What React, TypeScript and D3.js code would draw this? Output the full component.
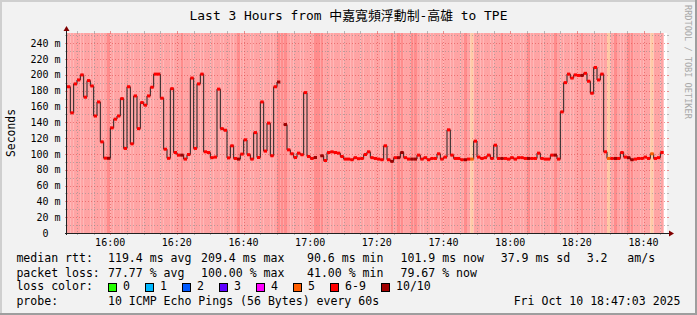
import React from "react";
import * as d3 from "d3";

// ---------------- data ----------------
const startTime = new Date(2025, 9, 10, 15, 47, 3);
const endTime = new Date(2025, 9, 10, 18, 47, 3);

// median rtt per minute (ms), null = no answer
const medianRtt: (number | null)[] = [
  185, 152, 188.6, 193.6, 200, 171.8, 192.8, 186, 148, 165.8,
  115.3, 94.7, 94.5, 133, 144, 148, 170, 107, 185, 112.8,
  173.4, 132, 165, 161.7, 173.4, 184.4, 201, 201, 170.5, 106,
  94.5, 182.6, 101.8, 98.5, 98.5, 93.5, 99.3, 196, 107, 188.6,
  201, 102.7, 101.8, 95.3, 96, 182, 132, 130, 95, 110.3,
  94.3, 93.5, 99.8, 117.9, 99, 93.5, 127, 95.5, 165.8, 103.6,
  139, 97.7, 185, 191, null, 137.2, 105.2, 100.2, 95.5, 101,
  99, 177.6, 96.8, 94.3, 95.5, null, 97.7, 91.7, 101.8, 102.7,
  101.8, 101, 96.8, 93.5, 93.5, 92.7, 95.3, 94, 94.3, 99.3,
  102.7, 95.3, 94.3, 93.5, 92.7, 110.3, 92.7, 90.6, 95.3, 95.3,
  101.8, 95.3, 93.5, 93.5, 93.5, 98.5, 93.5, 95.3, 92.7, 94.3,
  94.3, 100.2, 93.5, 96, 130.5, 98.5, 94.3, 94.3, 92.7, 92.7,
  93.5, 93.5, 116.2, 96, 94.3, 95.3, 98.5, 94.3, 111.1, 94.3,
  94.3, 94.3, 93.5, 95.3, 93.5, 95.3, 95.3, 94.3, 94.3, 94.3,
  94.3, 101, 94.3, 93.5, 93.5, 98.5, 98.5, 93.5, 153.2, 190.2,
  201, 196, 200, 199.3, 199.3, 202, 192, 176.8, 209.4, 193.6,
  201, 102.7, 94.3, 94.3, 94.3, 94.3, 101.8, 96, 95.3, 92.7,
  93.5, 94.3, 94.3, 96, 94.3, 100.2, 94.3, 95.3, 101.9,
];

// lost pings out of 10 per minute
const lossPerMinute: number[] = [
  8, 8, 8, 8, 8, 8, 8, 8, 8, 8,
  8, 8, 10, 8, 8, 8, 8, 8, 8, 8,
  8, 8, 8, 8, 8, 8, 8, 8, 8, 8,
  8, 8, 8, 8, 10, 8, 8, 8, 8, 8,
  8, 8, 8, 8, 8, 8, 8, 8, 8, 8,
  8, 10, 8, 8, 8, 8, 8, 8, 8, 8,
  8, 8, 8, 10, 10, 10, 8, 8, 8, 8,
  8, 8, 8, 8, 10, 10, 10, 8, 8, 8,
  8, 8, 8, 8, 8, 8, 8, 8, 8, 8,
  8, 8, 8, 8, 8, 8, 8, 10, 8, 10,
  10, 8, 8, 10, 10, 8, 8, 8, 8, 8,
  8, 8, 8, 8, 8, 8, 8, 8, 8, 10,
  8, 5, 8, 8, 8, 8, 8, 8, 8, 8,
  10, 8, 8, 8, 8, 8, 8, 8, 10, 8,
  8, 8, 8, 8, 8, 8, 10, 8, 8, 8,
  8, 8, 8, 8, 10, 8, 8, 8, 8, 8,
  8, 8, 5, 8, 10, 8, 8, 8, 10, 10,
  8, 8, 8, 8, 8, 5, 8, 8, 8,
];

const yTickValues = [0, 20, 40, 60, 80, 100, 120, 140, 160, 180, 200, 220, 240];
const lossLegendLabels = ["0", "1", "2", "3", "4", "5", "6-9", "10/10"];
const lossLegendColors = ["#26ff00", "#00b8ff", "#0059ff", "#5e00ff", "#ff00ff", "#ff5e00", "#ff0000", "#a00000"];
const rttStats = ["119.4 ms avg", "209.4 ms max", "90.6 ms min", "101.9 ms now", "37.9 ms sd", "3.2", "am/s"];
const lossStats = ["77.77 % avg", "100.00 % max", "41.00 % min", "79.67 % now"];
const titleText = "Last 3 Hours from 中嘉寬頻浮動制-高雄 to TPE";
const probeText = "10 ICMP Echo Pings (56 Bytes) every 60s";
const dateText = "Fri Oct 10 18:47:03 2025";

// ---------------- layout ----------------
const W = 697, H = 315;
const X0 = 67, X1 = 667, Y0 = 233, Y1 = 33;
const FONT = '"DejaVu Sans Mono", "Noto Sans CJK TC", monospace';

const bucketIndex = (l: number) => (l >= 10 ? 7 : l >= 6 ? 6 : l);
const bandColor = (l: number) => (l >= 10 ? "#ff8c8c" : l >= 6 ? "#ffa4a4" : "#ffcaa6");

export default function App() {
  const x = d3.scaleTime().domain([startTime, endTime]).range([X0, X1]);
  const y = d3.scaleLinear().domain([0, 253]).range([Y0, Y1]);
  const tAt = (i: number) => d3.timeMinute.offset(startTime, i);

  const minorX = d3.timeMinute.every(5)!.range(startTime, endTime);
  const majorX = d3.timeMinute.every(20)!.range(startTime, endTime);
  const isMajorX = (t: Date) => t.getMinutes() % 20 === 0;
  const minorY = d3.range(10, 253, 10);
  const fmt = d3.timeFormat("%H:%M");

  const pts = medianRtt.map((v, i) => ({ t: tAt(i), v }));
  const linePath = d3
    .line<{ t: Date; v: number | null }>()
    .defined((d) => d.v !== null)
    .x((d) => x(d.t))
    .y((d) => y(d.v as number))
    .curve(d3.curveStepAfter)(pts) || "";

  const gridCol = "rgba(143,143,143,0.6)";
  const mgridCol = "rgba(222,79,79,0.6)";

  const rttX = [108, 201, 307, 400.5, 500.7, 586.7, 627.3];
  const lossX = [108, 201, 307, 400.5];
  const swX = [108, 145, 182, 219, 256, 293, 330, 381];

  return (
    <svg width={W} height={H} style={{ position: "absolute", left: 0, top: 0 }} fontFamily={FONT}>
      <rect x={0} y={0} width={W} height={H} fill="#f2f2f2" />
      <rect x={0} y={0} width={W} height={2} fill="#cfcfcf" />
      <rect x={0} y={0} width={2} height={H} fill="#cfcfcf" />
      <rect x={0} y={H - 2} width={W} height={2} fill="#9e9e9e" />
      <rect x={W - 2} y={0} width={2} height={H} fill="#9e9e9e" />

      <text x={348.5} y={20} fontSize={12.9} textAnchor="middle" fill="#000">{titleText}</text>
      <text transform={`translate(${685},5) rotate(90)`} fontSize={8.6} fill="#a8a8a8">
        RRDTOOL / TOBI OETIKER
      </text>

      {/* canvas */}
      <rect x={X0} y={Y1} width={X1 - X0} height={Y0 - Y1} fill="#ffffff" />
      {/* loss background bands */}
      {lossPerMinute.map((l, i) => (
        <rect key={"b" + i} x={x(tAt(i))} y={Y1} width={x(tAt(i + 1)) - x(tAt(i))} height={Y0 - Y1} fill={bandColor(l)} />
      ))}

      {/* grid */}
      {minorY.filter((v) => v % 20 !== 0).map((v) => (
        <g key={"gy" + v}>
          <line x1={X0} x2={X1} y1={Math.round(y(v)) + 0.5} y2={Math.round(y(v)) + 0.5} stroke={gridCol} strokeDasharray="1,2" />
          <line x1={X0 - 2} x2={X0} y1={Math.round(y(v)) + 0.5} y2={Math.round(y(v)) + 0.5} stroke={gridCol} />
          <line x1={X1} x2={X1 + 2} y1={Math.round(y(v)) + 0.5} y2={Math.round(y(v)) + 0.5} stroke={gridCol} />
        </g>
      ))}
      {yTickValues.filter((v) => v > 0).map((v) => (
        <g key={"my" + v}>
          <line x1={X0} x2={X1} y1={Math.round(y(v)) + 0.5} y2={Math.round(y(v)) + 0.5} stroke={mgridCol} strokeDasharray="1,2" />
          <line x1={X0 - 2} x2={X0} y1={Math.round(y(v)) + 0.5} y2={Math.round(y(v)) + 0.5} stroke={mgridCol} />
          <line x1={X1} x2={X1 + 2} y1={Math.round(y(v)) + 0.5} y2={Math.round(y(v)) + 0.5} stroke={mgridCol} />
        </g>
      ))}
      {minorX.map((t) => {
        const xx = Math.round(x(t)) + 0.5;
        const c = isMajorX(t) ? mgridCol : gridCol;
        return (
          <g key={"gx" + +t}>
            <line x1={xx} x2={xx} y1={Y1} y2={Y0} stroke={c} strokeDasharray="1,2" />
            <line x1={xx} x2={xx} y1={Y0} y2={Y0 + 2} stroke={c} />
            <line x1={xx} x2={xx} y1={Y1 - 2} y2={Y1} stroke={c} />
          </g>
        );
      })}

      {/* median line */}
      <path d={linePath} fill="none" stroke="#202020" strokeWidth={1} />
      {medianRtt.map((v, i) =>
        v === null ? null : (
          <rect
            key={"m" + i}
            x={x(tAt(i))}
            y={y(v) - 1.5}
            width={x(tAt(i + 1)) - x(tAt(i))}
            height={3}
            fill={lossLegendColors[bucketIndex(lossPerMinute[i])]}
          />
        )
      )}

      {/* axes */}
      <line x1={X0 - 2} x2={X1 + 3} y1={Y0 + 0.5} y2={Y0 + 0.5} stroke="#212121" />
      <line x1={X0 - 0.5} x2={X0 - 0.5} y1={Y0 + 2} y2={Y1 - 4} stroke="#212121" />
      <path d={`M${X1 + 2},${Y0 - 2.5} L${X1 + 7},${Y0 + 0.5} L${X1 + 2},${Y0 + 3.5} Z`} fill="#800000" />
      <path d={`M${X0 - 3.5},${Y1 - 2} L${X0 - 0.5},${Y1 - 7} L${X0 + 2.5},${Y1 - 2} Z`} fill="#800000" />

      {/* y labels */}
      {yTickValues.map((v) => (
        <g key={"yl" + v} fontSize={10} fill="#000">
          <text x={48.5} y={y(v) + 3.6} textAnchor="end">{v}</text>
          {v > 0 && <text x={54.5} y={y(v) + 3.6}>m</text>}
        </g>
      ))}
      {/* x labels */}
      {majorX.map((t) => (
        <text key={"xl" + +t} x={x(t)} y={245.5} fontSize={10} textAnchor="middle" fill="#000">{fmt(t)}</text>
      ))}
      <text transform={`translate(15,133) rotate(-90)`} fontSize={11.4} textAnchor="middle" fill="#000">Seconds</text>

      {/* legend */}
      <g fontSize={11.55} fill="#000">
        <text x={16.4} y={262.3}>median rtt:</text>
        {rttStats.map((s, i) => (
          <text key={"rs" + i} x={rttX[i]} y={262.3}>{s}</text>
        ))}
        <text x={16.4} y={276.6}>packet loss:</text>
        {lossStats.map((s, i) => (
          <text key={"ls" + i} x={lossX[i]} y={276.6}>{s}</text>
        ))}
        <text x={16.4} y={290.4}>loss color:</text>
        {lossLegendLabels.map((s, i) => (
          <g key={"lc" + i}>
            <rect x={swX[i] + 0.5} y={283.5} width={8} height={8} fill={lossLegendColors[i]} stroke="#000" />
            <text x={swX[i] + 15} y={290.4}>{s}</text>
          </g>
        ))}
        <text x={16.4} y={304.8}>probe:</text>
        <text x={108} y={304.8}>{probeText}</text>
        <text x={680.5} y={304.8} textAnchor="end">{dateText}</text>
      </g>
    </svg>
  );
}
